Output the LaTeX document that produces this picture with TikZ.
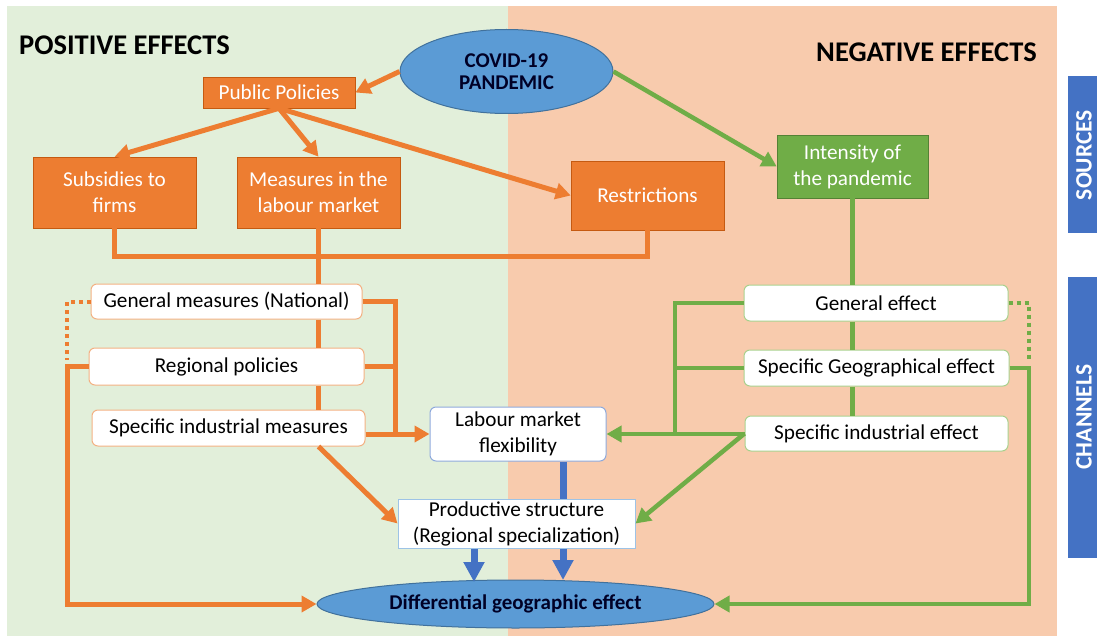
\documentclass[tikz,border=0pt]{standalone}
\usepackage{fontspec}
\setmainfont{Carlito}
\usetikzlibrary{arrows.meta,shapes.geometric}
\definecolor{panelG}{HTML}{E2EFDA}
\definecolor{panelO}{HTML}{F8CBAD}
\definecolor{orng}{HTML}{ED7D31}
\definecolor{orngd}{HTML}{C55A11}
\definecolor{grn}{HTML}{70AD47}
\definecolor{grnd}{HTML}{548235}
\definecolor{blu}{HTML}{4472C4}
\definecolor{ellb}{HTML}{5B9BD5}
\definecolor{ellbd}{HTML}{41719C}
\definecolor{lbord}{HTML}{F4B183}
\definecolor{rbord}{HTML}{A9D18E}
\definecolor{labord}{HTML}{8FAADC}
\definecolor{prbord}{HTML}{9DC3E6}
\newcommand{\bodyfnt}{\fontsize{21.2}{26}\selectfont}
\tikzset{
  obox/.style={rectangle, fill=orng, draw=orngd, line width=0.6pt, text=white, align=center, inner sep=0pt, font=\bodyfnt},
  gbox/.style={obox, fill=grn, draw=grnd},
  lbox/.style={rectangle, rounded corners=6pt, fill=white, draw=lbord, line width=1pt, align=center, inner sep=0pt, font=\bodyfnt},
  rbox/.style={lbox, draw=rbord},
  ellnode/.style={ellipse, fill=ellb, draw=ellbd, line width=1pt, align=center, inner sep=0pt, text=black!85!blue},
  oline/.style={draw=orng, line width=5pt},
  oarr/.style={oline, -{Triangle[length=15pt,width=16pt]}},
  odot/.style={draw=orng, line width=4pt, dash pattern=on 4pt off 4pt},
  gline/.style={draw=grn, line width=4.5pt},
  garr/.style={gline, -{Triangle[length=15pt,width=16pt]}},
  gdot/.style={draw=grn, line width=4pt, dash pattern=on 4pt off 4pt},
  bline/.style={draw=blu, line width=7pt},
  barr/.style={bline, -{Triangle[length=20pt,width=20pt]}},
  sidebar/.style={fill=blu},
  sidetext/.style={rotate=90, text=white, inner sep=0pt, font=\fontsize{23.5}{26}\selectfont\bfseries},
  title/.style={font=\fontsize{28.5}{32}\selectfont\bfseries, inner sep=0pt}
}
\begin{document}
\begin{tikzpicture}[x=1pt,y=-1pt]
\useasboundingbox (0,0) rectangle (1097,639);
\fill[white] (0,0) rectangle (1097,639);
\fill[panelG] (7,6) rectangle (508,636);
\fill[panelO] (508,6) rectangle (1057,636);
% side bars
\fill[sidebar] (1068,76) rectangle (1097,233);
\fill[sidebar] (1068,277) rectangle (1097,558);
\node[sidetext] (src) at (1084,155) {SOURCES};
\node[sidetext] (chn) at (1084,417) {CHANNELS};
% titles
\node[title, anchor=base west] (pos) at (19,55) {POSITIVE EFFECTS};
\node[title, anchor=base east] (neg) at (1037,62) {NEGATIVE EFFECTS};
% top nodes
\node[ellnode, minimum width=213pt, minimum height=84pt, font=\fontsize{21}{22}\selectfont\bfseries] (covid) at (506.5,71.5) {COVID-19\\PANDEMIC};
\node[obox, minimum width=152pt, minimum height=31pt] (pp) at (279,92.5) {Public Policies};
\node[obox, minimum width=163pt, minimum height=71pt] (subs) at (114.5,192.5) {Subsidies to\\firms};
\node[obox, minimum width=163pt, minimum height=71pt] (meas) at (318.5,192.5) {Measures in the\\labour market};
\node[obox, minimum width=153pt, minimum height=69pt] (rest) at (647.5,195.5) {Restrictions};
\node[gbox, minimum width=151pt, minimum height=63pt] (int) at (852.5,166.5) {Intensity of\\the pandemic};
% left channels
\node[lbox, minimum width=271pt, minimum height=35pt] (gm) at (226.5,301.5) {General measures (National)};
\node[lbox, minimum width=275pt, minimum height=37pt] (rp) at (226.5,366.5) {Regional policies};
\node[lbox, minimum width=273pt, minimum height=36pt] (sim) at (228.5,428) {Specific industrial measures};
% right channels
\node[rbox, minimum width=264pt, minimum height=36pt] (ge) at (876,303) {General effect};
\node[rbox, minimum width=265pt, minimum height=36pt] (sge) at (876.5,368) {Specific Geographical effect};
\node[rbox, minimum width=263pt, minimum height=35pt] (sie) at (876.5,433.5) {Specific industrial effect};
% center
\node[lbox, draw=labord, minimum width=176pt, minimum height=54pt] (lab) at (518,434) {Labour market\\flexibility};
\node[rectangle, fill=white, draw=prbord, line width=1pt, align=center, inner sep=0pt, font=\bodyfnt, minimum width=237pt, minimum height=49pt] (prod) at (516.5,523.5) {Productive structure\\(Regional specialization)};
\node[ellnode, minimum width=397pt, minimum height=48pt, font=\fontsize{21}{22}\selectfont\bfseries] (diff) at (515.5,604) {Differential geographic effect};
% connectors: sources
\draw[oarr] (covid.west) -- (pp.east);
\draw[oarr] (pp.south) -- (subs.north);
\draw[oarr] (pp.south) -- (meas.north);
\draw[oarr] (pp.south) -- (rest.west);
\draw[garr] (covid.east) -- (int.west);
\draw[oline] (subs.south) |- (rest.south |- 0,256) -- (rest.south);
\draw[oline] (meas.south) -- (gm.north -| meas.south);
\draw[oline] (gm.south -| meas.south) -- (rp.north -| meas.south);
\draw[oline] (rp.south -| meas.south) -- (sim.north -| meas.south);
% left bracket
\draw[oline] (gm.east) -| (395,434);
\draw[oline] (rp.east) -- (rp.east -| 395,0);
\draw[oarr] (sim.east |- lab.west) -- (lab.west);
\draw[oarr] (sim.south -| meas.south) -- (prod.west);
\draw[odot] (gm.west) -| (67,360);
\draw[oarr] (rp.west) -| (diff.west -| 67,0) -- (diff.west);
% green
\draw[gline] (int.south) -- (ge.north -| int.south);
\draw[gline] (ge.south -| int.south) -- (sge.north -| int.south);
\draw[gline] (sge.south -| int.south) -- (sie.north -| int.south);
\draw[gline] (ge.west) -| (675,434);
\draw[gline] (sge.west) -- (sge.west -| 675,0);
\draw[garr] (sie.west |- lab.east) -- (lab.east);
\draw[garr] (sie.west) -- (prod.east);
\draw[gdot] (ge.east) -| (1029,360);
\draw[garr] (sge.east) -| (diff.east -| 1029,0) -- (diff.east);
% blue
\draw[bline] (lab.south -| 563,0) -- (prod.north -| 563,0);
\draw[barr] (prod.south -| 563,0) -- (563,580);
\draw[barr] (prod.south -| 474,0) -- (474,582);
\end{tikzpicture}
\end{document}
